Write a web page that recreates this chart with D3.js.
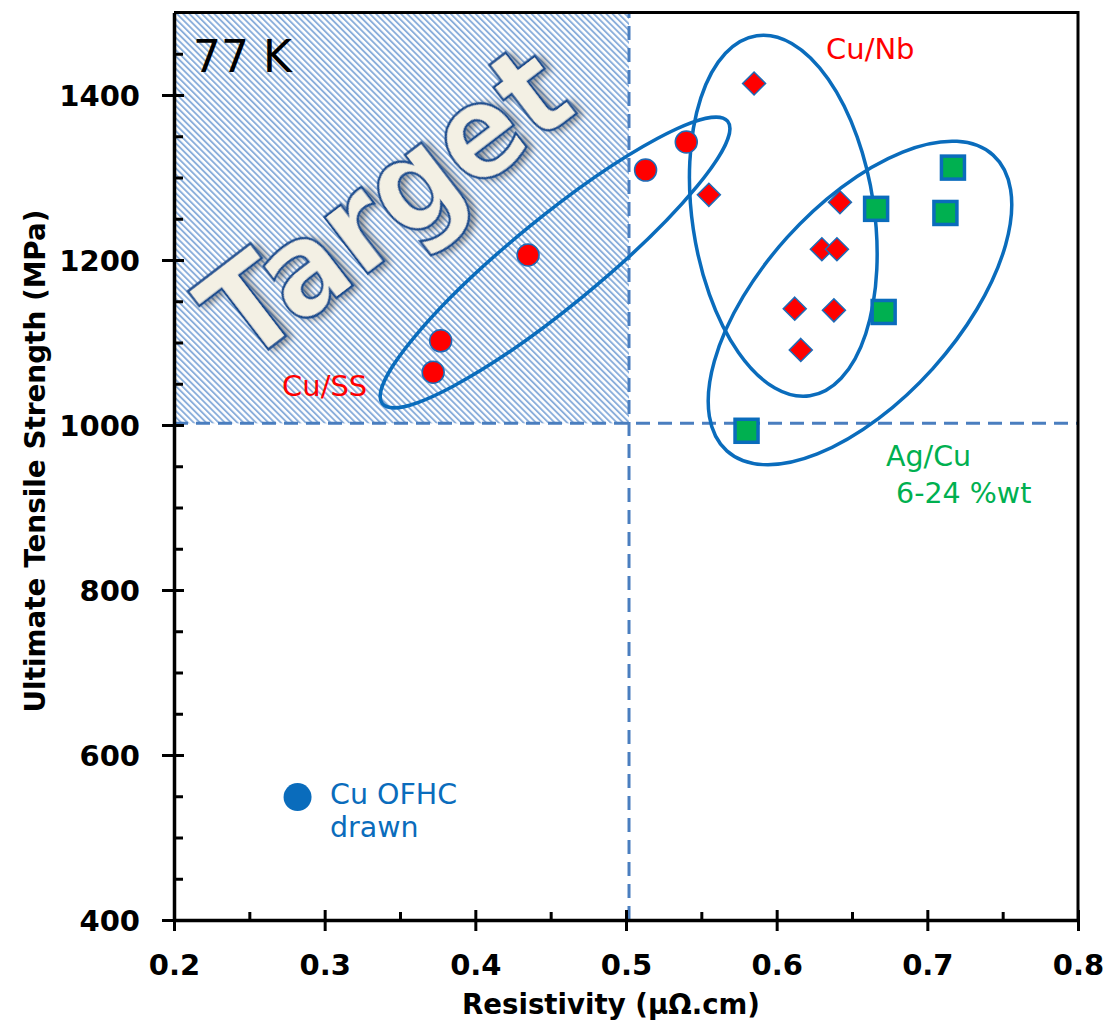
<!DOCTYPE html>
<html>
<head>
<meta charset="utf-8">
<script src="https://cdn.jsdelivr.net/npm/d3@7"></script>
<style>
  body { margin: 0; background: #fff; }
  svg { display: block; font-family: "DejaVu Sans", sans-serif; }
</style>
</head>
<body>
<script>
// values
let cuSSx = [0.372, 0.377, 0.435, 0.513, 0.540];
let cuSSy = [1064, 1102, 1206, 1309, 1343];
let cuNbx = [0.585, 0.555, 0.642, 0.630, 0.640, 0.612, 0.638, 0.616];
let cuNby = [1414, 1279, 1270, 1213, 1213, 1141, 1139, 1091];
let agCux = [0.717, 0.666, 0.712, 0.671, 0.580];
let agCuy = [1312, 1262, 1257, 1137, 993];
let ofhcX = [0.282];
let ofhcY = [549];

let xTicks = [0.2, 0.3, 0.4, 0.5, 0.6, 0.7, 0.8];
let yTicks = [400, 600, 800, 1000, 1200, 1400];
let xMinor = [0.25, 0.35, 0.45, 0.55, 0.65, 0.75];
let yMinor = d3.range(450, 1500, 50).filter(d => d % 200 !== 0);

// target limits (resistivity, strength)
let targetX = 0.502, targetY = 1002;

// group ellipses: center in data units
let groupCx = [0.4529, 0.6044, 0.6553];
let groupCy = [1197, 1253.6, 1147.9];

let svgWidth = 1104, svgHeight = 1026;
let mLeft = 174, mRight = 1078, mTop = 12.5, mBottom = 920;

let svg = d3.select('body').append('svg')
    .attr('width', svgWidth).attr('height', svgHeight)

let xScale = d3.scaleLinear().domain([0.2, 0.8]).range([mLeft, mRight])
let yScale = d3.scaleLinear().domain([400, 1500]).range([mBottom, mTop])

let defs = svg.append('defs')
let pat = defs.append('pattern')
    .attr('id', 'hatch')
    .attr('patternUnits', 'userSpaceOnUse')
    .attr('width', 4.4).attr('height', 4.4)
    .attr('patternTransform', 'rotate(-45)')
pat.append('rect').attr('width', 4.4).attr('height', 4.4).attr('fill', '#fff')
pat.append('rect').attr('width', 1.9).attr('height', 4.4).attr('fill', '#8aaedb')

let shadow = defs.append('filter').attr('id', 'shadow')
    .attr('x', '-15%').attr('y', '-40%').attr('width', '130%').attr('height', '180%')
shadow.append('feDropShadow')
    .attr('dx', 4).attr('dy', 4).attr('stdDeviation', 3)
    .attr('flood-color', '#000').attr('flood-opacity', 0.4)

// target zone
svg.append('rect')
    .attr('x', xScale(0.2)).attr('y', mTop)
    .attr('width', xScale(targetX) - xScale(0.2))
    .attr('height', yScale(targetY) - mTop)
    .attr('fill', 'url(#hatch)')

svg.append('line')
    .attr('x1', xScale(targetX)).attr('x2', xScale(targetX))
    .attr('y1', mBottom).attr('y2', mTop)
    .attr('stroke', '#4a7ebf').attr('stroke-width', 3)
    .attr('stroke-dasharray', '14,8')
svg.append('line')
    .attr('x1', mLeft).attr('x2', mRight)
    .attr('y1', yScale(targetY)).attr('y2', yScale(targetY))
    .attr('stroke', '#4a7ebf').attr('stroke-width', 3)
    .attr('stroke-dasharray', '14,8')

svg.append('text')
    .attr('transform', 'translate(413,239) rotate(-37.5)')
    .attr('text-anchor', 'middle')
    .attr('font-size', 130).attr('font-weight', 'bold')
    .attr('textLength', 422).attr('lengthAdjust', 'spacingAndGlyphs')
    .attr('fill', '#f3f0e4').attr('stroke', '#1f4e8e').attr('stroke-width', 2.5)
    .attr('filter', 'url(#shadow)')
    .text('Target')

svg.append('text')
    .attr('x', 193).attr('y', 72)
    .attr('font-size', 44).attr('fill', '#000')
    .text('77 K')

// ellipses
let ellRx = [223, 91, 199], ellRy = [44, 182, 98], ellRot = [-39.3, -8.4, -48];
svg.selectAll('ellipse.group')
    .data(groupCx)
    .enter()
    .append('ellipse')
    .attr('transform', (d, i) => 'translate(' + xScale(d) + ',' + yScale(groupCy[i]) + ') rotate(' + ellRot[i] + ')')
    .attr('rx', (d, i) => ellRx[i]).attr('ry', (d, i) => ellRy[i])
    .attr('fill', 'none').attr('stroke', '#0a6cbc').attr('stroke-width', 3.5)

// axes
let xAxis = svg.append('g')
    .attr('transform', 'translate(0,' + mBottom + ')')
    .call(d3.axisBottom(xScale).tickValues(xTicks).tickFormat(d3.format('.1f')).tickSize(11).tickSizeOuter(0))
xAxis.select('.domain').attr('stroke-width', 3.5)
xAxis.selectAll('.tick line').attr('y1', -10).attr('stroke-width', 3)
xAxis.selectAll('.tick text')
    .attr('font-family', 'DejaVu Sans').attr('font-size', 29).attr('font-weight', 'bold')
    .attr('fill', '#000').attr('dy', 0).attr('y', 55)
svg.append('g')
    .attr('transform', 'translate(0,' + mBottom + ')')
    .call(d3.axisTop(xScale).tickValues(xMinor).tickFormat('').tickSize(8).tickSizeOuter(0))
    .call(g => g.select('.domain').remove())
    .selectAll('line').attr('stroke-width', 3)

let yAxis = svg.append('g')
    .attr('transform', 'translate(' + mLeft + ',0)')
    .call(d3.axisLeft(yScale).tickValues(yTicks).tickFormat(d3.format('d')).tickSize(12).tickSizeOuter(0))
yAxis.select('.domain').attr('stroke-width', 3.5)
yAxis.selectAll('.tick line').attr('x1', 10).attr('stroke-width', 3)
yAxis.selectAll('.tick text')
    .attr('font-family', 'DejaVu Sans').attr('font-size', 29).attr('font-weight', 'bold')
    .attr('fill', '#000').attr('x', -34).attr('dy', '0.36em')
svg.append('g')
    .attr('transform', 'translate(' + mLeft + ',0)')
    .call(d3.axisRight(yScale).tickValues(yMinor).tickFormat('').tickSize(9).tickSizeOuter(0))
    .call(g => g.select('.domain').remove())
    .selectAll('line').attr('stroke-width', 3)

// frame top and right
svg.append('path')
    .attr('d', 'M' + mLeft + ',' + mTop + 'H' + mRight + 'V' + mBottom)
    .attr('fill', 'none').attr('stroke', '#000').attr('stroke-width', 3)

svg.append('text')
    .attr('x', 611).attr('y', 1014)
    .attr('text-anchor', 'middle')
    .attr('font-size', 29).attr('font-weight', 'bold')
    .attr('textLength', 298).attr('lengthAdjust', 'spacingAndGlyphs')
    .text('Resistivity (µΩ.cm)')

svg.append('text')
    .attr('transform', 'translate(45,461) rotate(-90)')
    .attr('text-anchor', 'middle')
    .attr('font-size', 29).attr('font-weight', 'bold')
    .attr('textLength', 503).attr('lengthAdjust', 'spacingAndGlyphs')
    .text('Ultimate Tensile Strength (MPa)')

// markers
svg.selectAll('circle.cuss')
    .data(cuSSx)
    .enter()
    .append('circle')
    .attr('cx', d => xScale(d))
    .attr('cy', (d, i) => yScale(cuSSy[i]))
    .attr('r', 11)
    .attr('fill', '#ff0000').attr('stroke', '#1c6cb8').attr('stroke-width', 1.5)

svg.selectAll('path.cunb')
    .data(cuNbx)
    .enter()
    .append('path')
    .attr('d', 'M0,-11.5L11.5,0L0,11.5L-11.5,0Z')
    .attr('transform', (d, i) => 'translate(' + xScale(d) + ',' + yScale(cuNby[i]) + ')')
    .attr('fill', '#ff0000').attr('stroke', '#1c6cb8').attr('stroke-width', 1.5)

svg.selectAll('rect.agcu')
    .data(agCux)
    .enter()
    .append('rect')
    .attr('x', d => xScale(d) - 11.5)
    .attr('y', (d, i) => yScale(agCuy[i]) - 11.5)
    .attr('width', 23).attr('height', 23)
    .attr('fill', '#00b050').attr('stroke', '#0a6cbc').attr('stroke-width', 3.5)

svg.selectAll('circle.ofhc')
    .data(ofhcX)
    .enter()
    .append('circle')
    .attr('cx', d => xScale(d))
    .attr('cy', (d, i) => yScale(ofhcY[i]))
    .attr('r', 14)
    .attr('fill', '#0a6cbc')

// group labels
svg.append('text').attr('x', 826).attr('y', 59)
    .attr('font-size', 29).attr('fill', '#ff0000').text('Cu/Nb')
svg.append('text').attr('x', 282).attr('y', 396)
    .attr('font-size', 29).attr('fill', '#ff0000').text('Cu/SS')
svg.append('text').attr('x', 886).attr('y', 466)
    .attr('font-size', 28.5).attr('fill', '#00b050').text('Ag/Cu')
svg.append('text').attr('x', 896).attr('y', 503)
    .attr('font-size', 28.5).attr('fill', '#00b050').text('6-24 %wt')
svg.append('text').attr('x', 330).attr('y', 804)
    .attr('font-size', 28.5).attr('fill', '#0a6cbc').text('Cu OFHC')
svg.append('text').attr('x', 330).attr('y', 837)
    .attr('font-size', 28.5).attr('fill', '#0a6cbc').text('drawn')
</script>
</body>
</html>
